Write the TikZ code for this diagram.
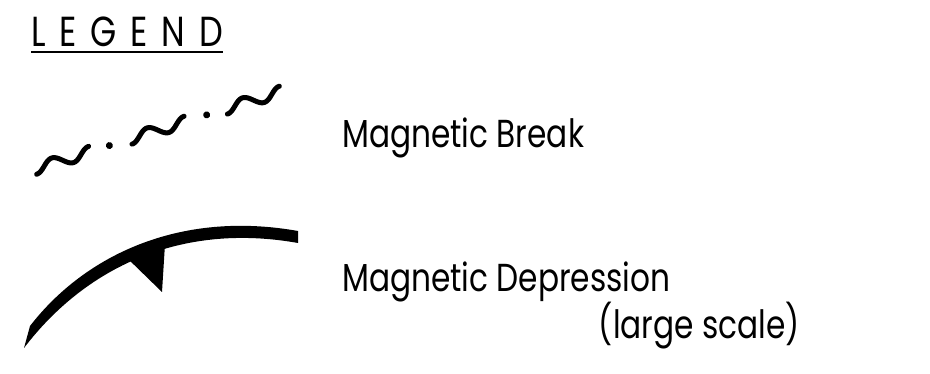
\documentclass[tikz,border=0pt]{standalone}
\usepackage{fontspec}
\newfontfamily\legendfont{Poppins}[FakeStretch=0.8]
\usetikzlibrary{positioning}
\tikzset{
  label text/.style={anchor=base west,inner sep=0pt,font=\legendfont\fontsize{39}{39}\selectfont},
  wave/.style={line width=5pt,line cap=round,line join=round}
}
\begin{document}
\begin{tikzpicture}[x=1pt,y=-1pt]
  \useasboundingbox (0,0) rectangle (930,374);
  % heading
  \node[anchor=base west,inner sep=0pt,font=\legendfont\fontsize{42}{42}\selectfont\addfontfeature{LetterSpace=33}] (title) at (31,47) {LEGEND};
  \draw[line width=2pt] ([yshift=-5pt]title.south west) -- ([yshift=-5pt]title.south east);
  % magnetic break symbol
  \begin{scope}[shift={(35,169)},rotate=17.5]
    \foreach \s in {0,100,200}{
      \draw[wave,domain=0:540,samples=40,variable=\t] plot ({\s+\t/540*58},{5.5*cos(\t)});
    }
    \foreach \s in {78,180}{
      \fill (\s,0) circle (3.5);
    }
  \end{scope}
  % magnetic depression symbol
  \fill (30,326) .. controls (85,255) and (180,210) .. (298,231)
        -- (298,243) .. controls (180,222) and (85,268) .. (24,348) -- cycle;
  \fill (125,256) -- (165,244) -- (162,292) -- cycle;
  % labels
  \node[label text] (brk) at (342,148) {Magnetic Break};
  \node[label text] (dep) at (342,292) {Magnetic Depression};
  \node[label text,anchor=base east] (scl) at (800,338) {(large scale)};
\end{tikzpicture}
\end{document}
